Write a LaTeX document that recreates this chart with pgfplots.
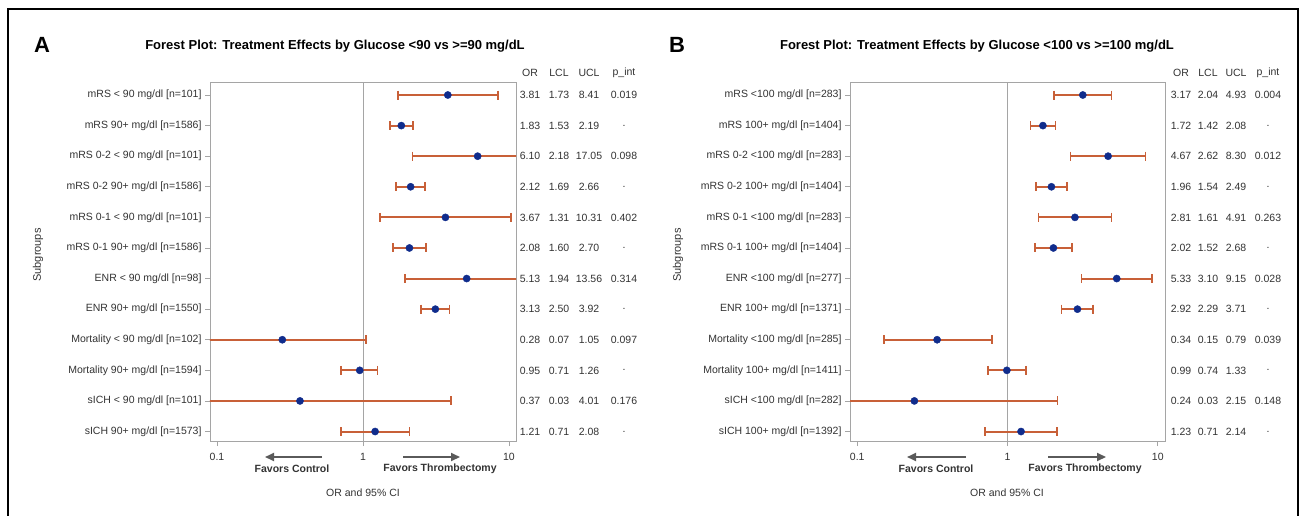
\documentclass[border=0pt]{standalone}
\usepackage{fontspec}
\setmainfont{Liberation Sans}
\usepackage{pgfplots}
\pgfplotsset{compat=1.18}
\usetikzlibrary{arrows.meta}

\definecolor{cicol}{RGB}{200,96,56}
\definecolor{dotcol}{RGB}{16,44,140}
\definecolor{txt}{RGB}{51,51,51}
\definecolor{boxcol}{RGB}{165,165,165}
\definecolor{arrcol}{RGB}{90,90,90}

\begin{document}
\begin{tikzpicture}[x=1pt,y=1pt]
\useasboundingbox (0,0) rectangle (1303,515);
\fill[white] (0,0) rectangle (1303,515);
\draw[line width=2pt] (8,-5) -- (8,506) -- (1298,506) -- (1298,-5);

% ---------------- panel A ----------------
\node[font=\fontsize{22}{24}\bfseries\selectfont] at (42,470) {A};
\node[font=\fontsize{13}{15}\bfseries\selectfont] at (335,469) {Forest Plot: Treatment Effects by Glucose <90 vs >=90 mg/dL};

\begin{axis}[at={(210pt,74pt)}, anchor=south west, width=306pt, height=359pt,
  scale only axis, xmode=log, xmin=0.0895, xmax=11.17,
  ymin=0.575, ymax=12.31, y dir=reverse,
  xtick={0.1,1,10}, xticklabels={0.1,1,10}, xminorticks=false,
  ytick={1,...,12},
  tick pos=left, tick align=outside, major tick length=5pt,
  axis line style={boxcol, line width=0.8pt},
  tick style={boxcol, line width=0.6pt},
  ticklabel style={font=\fontsize{10.5}{12}\selectfont, text=txt},
  xticklabel style={yshift=-4pt},
  yticklabels={{mRS < 90 mg/dl [n=101]},{mRS 90+ mg/dl [n=1586]},
    {mRS 0-2 < 90 mg/dl [n=101]},{mRS 0-2 90+ mg/dl [n=1586]},
    {mRS 0-1 < 90 mg/dl [n=101]},{mRS 0-1 90+ mg/dl [n=1586]},
    {ENR < 90 mg/dl [n=98]},{ENR 90+ mg/dl [n=1550]},
    {Mortality < 90 mg/dl [n=102]},{Mortality 90+ mg/dl [n=1594]},
    {sICH < 90 mg/dl [n=101]},{sICH 90+ mg/dl [n=1573]}}]
\addplot[color=boxcol, line width=1pt, mark=none] coordinates {(1,0.575) (1,12.31)};
\addplot[color=cicol, line width=2pt, mark=none, unbounded coords=jump] coordinates {
  (1.73,1) (8.41,1) (nan,nan) (1.53,2) (2.19,2) (nan,nan) (2.18,3) (17.05,3) (nan,nan)
  (1.69,4) (2.66,4) (nan,nan) (1.31,5) (10.31,5) (nan,nan) (1.60,6) (2.70,6) (nan,nan)
  (1.94,7) (13.56,7) (nan,nan) (2.50,8) (3.92,8) (nan,nan) (0.07,9) (1.05,9) (nan,nan)
  (0.71,10) (1.26,10) (nan,nan) (0.03,11) (4.01,11) (nan,nan) (0.71,12) (2.08,12)};
\addplot[color=cicol, line width=1.6pt, only marks, mark=|, mark size=4.5pt] coordinates {
  (1.73,1) (8.41,1) (1.53,2) (2.19,2) (2.18,3)
  (1.69,4) (2.66,4) (1.31,5) (10.31,5) (1.60,6) (2.70,6) (1.94,7)
  (2.50,8) (3.92,8) (1.05,9) (0.71,10) (1.26,10) (4.01,11) (0.71,12) (2.08,12)};
\addplot[color=dotcol, only marks, mark=*, mark size=3.6pt] coordinates {
  (3.81,1) (1.83,2) (6.10,3) (2.12,4) (3.67,5) (2.08,6)
  (5.13,7) (3.13,8) (0.28,9) (0.95,10) (0.37,11) (1.21,12)};
\end{axis}

\begin{scope}[font=\fontsize{10.5}{12}\selectfont, text=txt]
\node at (530,442) {OR}; \node at (559,442) {LCL}; \node at (589,442) {UCL}; \node at (624,442) {p\_int};
\foreach \o/\l/\u/\p [count=\i] in {3.81/1.73/8.41/0.019, 1.83/1.53/2.19/., 6.10/2.18/17.05/0.098,
  2.12/1.69/2.66/., 3.67/1.31/10.31/0.402, 2.08/1.60/2.70/., 5.13/1.94/13.56/0.314,
  3.13/2.50/3.92/., 0.28/0.07/1.05/0.097, 0.95/0.71/1.26/., 0.37/0.03/4.01/0.176, 1.21/0.71/2.08/.}{
  \pgfmathsetmacro\yy{420-30.6*(\i-1)}
  \node at (530,\yy) {\o}; \node at (559,\yy) {\l}; \node at (589,\yy) {\u}; \node at (624,\yy) {\p};
}
\node[rotate=90, font=\fontsize{11}{13}\selectfont] at (38,260) {Subgroups};
\node at (363,22) {OR and 95\% CI};
\node[font=\fontsize{10.5}{12}\bfseries\selectfont] at (292,46) {Favors Control};
\node[font=\fontsize{10.5}{12}\bfseries\selectfont] at (440,46) {Favors Thrombectomy};
\end{scope}
\draw[arrcol, line width=2pt, -{Triangle[length=9pt,width=8pt]}] (322,58) -- (265,58);
\draw[arrcol, line width=2pt, -{Triangle[length=9pt,width=8pt]}] (403,58) -- (460,58);

% ---------------- panel B ----------------
\node[font=\fontsize{22}{24}\bfseries\selectfont] at (677,470) {B};
\node[font=\fontsize{13}{15}\bfseries\selectfont] at (977,469) {Forest Plot: Treatment Effects by Glucose <100 vs >=100 mg/dL};

\begin{axis}[at={(850pt,74pt)}, anchor=south west, width=315pt, height=359pt,
  scale only axis, xmode=log, xmin=0.0895, xmax=11.17,
  ymin=0.575, ymax=12.31, y dir=reverse,
  xtick={0.1,1,10}, xticklabels={0.1,1,10}, xminorticks=false,
  ytick={1,...,12},
  tick pos=left, tick align=outside, major tick length=5pt,
  axis line style={boxcol, line width=0.8pt},
  tick style={boxcol, line width=0.6pt},
  ticklabel style={font=\fontsize{10.5}{12}\selectfont, text=txt},
  xticklabel style={yshift=-4pt},
  yticklabels={{mRS <100 mg/dl [n=283]},{mRS 100+ mg/dl [n=1404]},
    {mRS 0-2 <100 mg/dl [n=283]},{mRS 0-2 100+ mg/dl [n=1404]},
    {mRS 0-1 <100 mg/dl [n=283]},{mRS 0-1 100+ mg/dl [n=1404]},
    {ENR <100 mg/dl [n=277]},{ENR 100+ mg/dl [n=1371]},
    {Mortality <100 mg/dl [n=285]},{Mortality 100+ mg/dl [n=1411]},
    {sICH <100 mg/dl [n=282]},{sICH 100+ mg/dl [n=1392]}}]
\addplot[color=boxcol, line width=1pt, mark=none] coordinates {(1,0.575) (1,12.31)};
\addplot[color=cicol, line width=2pt, mark=none, unbounded coords=jump] coordinates {
  (2.04,1) (4.93,1) (nan,nan) (1.42,2) (2.08,2) (nan,nan) (2.62,3) (8.30,3) (nan,nan)
  (1.54,4) (2.49,4) (nan,nan) (1.61,5) (4.91,5) (nan,nan) (1.52,6) (2.68,6) (nan,nan)
  (3.10,7) (9.15,7) (nan,nan) (2.29,8) (3.71,8) (nan,nan) (0.15,9) (0.79,9) (nan,nan)
  (0.74,10) (1.33,10) (nan,nan) (0.03,11) (2.15,11) (nan,nan) (0.71,12) (2.14,12)};
\addplot[color=cicol, line width=1.6pt, only marks, mark=|, mark size=4.5pt] coordinates {
  (2.04,1) (4.93,1) (1.42,2) (2.08,2) (2.62,3) (8.30,3)
  (1.54,4) (2.49,4) (1.61,5) (4.91,5) (1.52,6) (2.68,6) (3.10,7) (9.15,7)
  (2.29,8) (3.71,8) (0.15,9) (0.79,9) (0.74,10) (1.33,10) (2.15,11) (0.71,12) (2.14,12)};
\addplot[color=dotcol, only marks, mark=*, mark size=3.6pt] coordinates {
  (3.17,1) (1.72,2) (4.67,3) (1.96,4) (2.81,5) (2.02,6)
  (5.33,7) (2.92,8) (0.34,9) (0.99,10) (0.24,11) (1.23,12)};
\end{axis}

\begin{scope}[font=\fontsize{10.5}{12}\selectfont, text=txt]
\node at (1181,442) {OR}; \node at (1208,442) {LCL}; \node at (1236,442) {UCL}; \node at (1268,442) {p\_int};
\foreach \o/\l/\u/\p [count=\i] in {3.17/2.04/4.93/0.004, 1.72/1.42/2.08/., 4.67/2.62/8.30/0.012,
  1.96/1.54/2.49/., 2.81/1.61/4.91/0.263, 2.02/1.52/2.68/., 5.33/3.10/9.15/0.028,
  2.92/2.29/3.71/., 0.34/0.15/0.79/0.039, 0.99/0.74/1.33/., 0.24/0.03/2.15/0.148, 1.23/0.71/2.14/.}{
  \pgfmathsetmacro\yy{420-30.6*(\i-1)}
  \node at (1181,\yy) {\o}; \node at (1208,\yy) {\l}; \node at (1236,\yy) {\u}; \node at (1268,\yy) {\p};
}
\node[rotate=90, font=\fontsize{11}{13}\selectfont] at (678,260) {Subgroups};
\node at (1007,22) {OR and 95\% CI};
\node[font=\fontsize{10.5}{12}\bfseries\selectfont] at (936,46) {Favors Control};
\node[font=\fontsize{10.5}{12}\bfseries\selectfont] at (1085,46) {Favors Thrombectomy};
\end{scope}
\draw[arrcol, line width=2pt, -{Triangle[length=9pt,width=8pt]}] (966,58) -- (907,58);
\draw[arrcol, line width=2pt, -{Triangle[length=9pt,width=8pt]}] (1048,58) -- (1106,58);
\end{tikzpicture}
\end{document}
